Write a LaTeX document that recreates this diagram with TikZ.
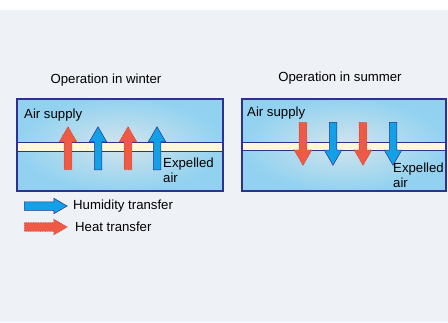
\documentclass[tikz,border=0pt]{standalone}
\usepackage{fontspec}
\setmainfont{Liberation Sans}
\usetikzlibrary{shapes.arrows}
\definecolor{navy}{HTML}{2E3192}
\definecolor{backgr}{HTML}{EEF1F6}
\definecolor{panelin}{HTML}{D3E4EC}
\definecolor{panelout}{HTML}{92D2F0}
\definecolor{cream}{HTML}{FFF7D6}
\definecolor{humblue}{HTML}{12A0E6}
\definecolor{heatred}{HTML}{EE5A45}
\definecolor{heatdark}{HTML}{C8402E}
\begin{document}
\begin{tikzpicture}[x=1pt,y=-1pt,inner sep=1pt,font=\fontsize{13.2}{15}\selectfont,
    panelfill/.style={inner color=panelin,outer color=panelout},
    panelframe/.style={draw=navy,line width=1.6pt},
    membrane/.style={draw=navy,line width=0.9pt,fill=cream},
    blockarrow/.style={single arrow,minimum height=43pt,inner sep=3.5pt,
      single arrow head extend=5pt,single arrow tip angle=60},
    humid/.style={blockarrow,draw=navy,line width=0.5pt,fill=humblue},
    heat/.style={blockarrow,draw=heatdark,densely dotted,line width=0.7pt,fill=heatred}]
   \useasboundingbox (0,0) rectangle (448,322);
   \fill[white] (0,0) rectangle (448,10);
   \fill[backgr] (0,10) rectangle (448,322);

   \node (tw) at (106,80) {Operation in winter};
   \node (ts) at (340,78) {Operation in summer};

   % winter
   \shade[panelfill] (17,99) rectangle (223,191);
   \draw[membrane] (17,142) rectangle (223,151);
   \node[heat,shape border rotate=90,anchor=tail] (w1) at (68,170) {};
   \node[humid,shape border rotate=90,anchor=tail] (w2) at (98,170) {};
   \node[heat,shape border rotate=90,anchor=tail] (w3) at (128,170) {};
   \node[humid,shape border rotate=90,anchor=tail] (w4) at (157,170) {};
   \draw[panelframe] (17,99) rectangle (223,191);
   \node[anchor=west] (sw) at (23,115) {Air supply};
   \node[anchor=west,align=left,inner sep=0pt] (ew) at (163,170.5) {Expelled\\air};

   % summer
   \shade[panelfill] (242,99) rectangle (446,191);
   \draw[membrane] (242,142) rectangle (446,150);
   \node[heat,shape border rotate=270,anchor=tail] (s1) at (303,122) {};
   \node[humid,shape border rotate=270,anchor=tail] (s2) at (333,122) {};
   \node[heat,shape border rotate=270,anchor=tail] (s3) at (363,122) {};
   \node[humid,shape border rotate=270,anchor=tail] (s4) at (393,122) {};
   \draw[panelframe] (242,99) rectangle (446,191);
   \node[anchor=west] (ss) at (246,113) {Air supply};
   \node[anchor=west,align=left,inner sep=0pt] (es) at (393,175) {Expelled\\air};

   % legend
   \node[humid,inner sep=4pt,single arrow head extend=3.5pt,anchor=tail] (lh) at (24,206) {};
   \node[anchor=west] (th) at (72,206) {Humidity transfer};
   \node[heat,inner sep=4pt,single arrow head extend=3.5pt,anchor=tail] (lq) at (24,227) {};
   \node[anchor=west] (tq) at (74,227) {Heat transfer};
\end{tikzpicture}
\end{document}
